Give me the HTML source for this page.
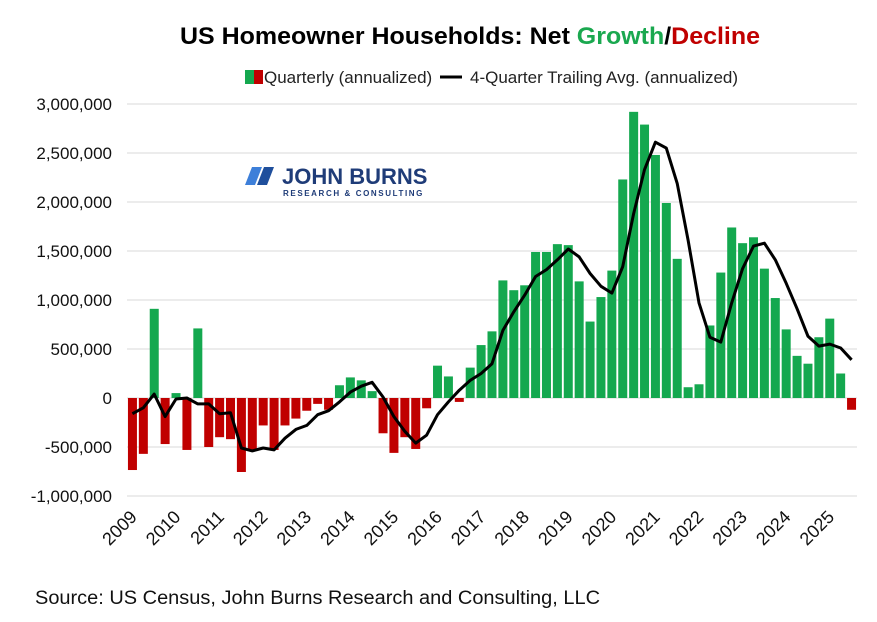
<!DOCTYPE html>
<html><head><meta charset="utf-8"><style>
body{margin:0;background:#fff;}
svg text{font-family:"Liberation Sans",Arial,sans-serif;}
</style></head><body>
<svg width="877" height="617" viewBox="0 0 877 617">
<text x="180" y="44" textLength="580" lengthAdjust="spacingAndGlyphs" font-size="24" font-weight="bold" fill="#000">US Homeowner Households: Net <tspan fill="#1aa84f">Growth</tspan>/<tspan fill="#c00000">Decline</tspan></text>
<g>
<rect x="245" y="70" width="9" height="14" fill="#14a84f"/>
<rect x="254" y="70" width="9" height="14" fill="#c00000"/>
<text x="264" y="83" font-size="17" fill="#222">Quarterly (annualized)</text>
<line x1="440" y1="77" x2="462" y2="77" stroke="#000" stroke-width="3"/>
<text x="470" y="83" font-size="17" fill="#222">4-Quarter Trailing Avg. (annualized)</text>
</g>
<g id="grid"></g>
<g id="ylab"></g>
<g id="bars"></g>
<g id="xlab"></g>
<g>
<polygon points="252,167 262,167 255,185 245,185" fill="#3d7fd9"/>
<polygon points="264,167 274,167 267,185 257,185" fill="#1f4f9c"/>
<text x="282" y="184" font-size="22" font-weight="bold" fill="#1f3c78">JOHN BURNS</text>
<text x="283" y="196" font-size="8" font-weight="bold" fill="#1f3c78" letter-spacing="1.6">RESEARCH &amp; CONSULTING</text>
</g>
<text x="35" y="604" textLength="565" lengthAdjust="spacingAndGlyphs" font-size="19" fill="#111">Source: US Census, John Burns Research and Consulting, LLC</text>
</svg>
<script>
const quarterly=[-735,-570,910,-470,50,-530,710,-500,-400,-420,-755,-530,-280,-530,-280,-210,-130,-60,-120,130,210,180,70,-360,-560,-400,-520,-105,330,220,-40,310,540,680,1200,1100,1150,1490,1490,1570,1560,1190,780,1030,1300,2230,2920,2790,2480,1990,1420,110,140,740,1280,1740,1580,1640,1320,1020,700,430,350,620,810,250,-120];
const trailingAvg=[-160,-100,40,-190,-10,0,-60,-60,-160,-150,-510,-540,-510,-530,-410,-320,-280,-170,-130,-40,60,120,160,10,-190,-340,-460,-380,-170,-40,80,180,250,350,690,880,1050,1240,1310,1410,1520,1440,1270,1140,1070,1340,1880,2330,2610,2550,2190,1610,970,620,570,970,1320,1550,1580,1410,1170,910,630,530,550,510,390];
const yTicks=[-1000000,-500000,0,500000,1000000,1500000,2000000,2500000,3000000];
const yearLabels=["2009","2010","2011","2012","2013","2014","2015","2016","2017","2018","2019","2020","2021","2022","2023","2024","2025"];
const NS="http://www.w3.org/2000/svg";
const x0=127,x1=857,slot=(x1-x0)/quarterly.length;
const y=v=>398-v/1000000*98;
const xc=i=>x0+slot*(i+0.5);
function mk(t,a,p){const e=document.createElementNS(NS,t);for(const k in a)e.setAttribute(k,a[k]);p.appendChild(e);return e;}
const grid=document.getElementById('grid'),ylab=document.getElementById('ylab');
yTicks.forEach(v=>{
 const l=mk('line',{x1:x0,x2:x1,y1:y(v),y2:y(v),stroke:'#d9d9d9','stroke-width':1},grid);
 
 
 const t=mk('text',{x:112,y:y(v)+6,'text-anchor':'end','font-size':17,fill:'#111'},ylab);
 t.textContent=v.toLocaleString('en-US');
 
 
});
const bars=document.getElementById('bars');
quarterly.forEach((q,i)=>{
 const v=q*1000;
 const r=mk('rect',{x:xc(i)-4.5,width:9,y:Math.min(y(v),y(0)),height:Math.abs(y(v)-y(0)),fill:v>=0?'#14a84f':'#c00000'},bars);
 
 
});
const pts=trailingAvg.map((v,i)=>xc(i).toFixed(1)+','+y(v*1000).toFixed(1)).join(' ');
const pl=mk('polyline',{points:pts,fill:'none',stroke:'#000','stroke-width':3,'stroke-linejoin':'round'},bars);


const xlab=document.getElementById('xlab');
yearLabels.forEach((s,k)=>{
 const px=x0+slot*4*k+11, py=518;
 const t=mk('text',{x:px,y:py,'text-anchor':'end','font-size':18,fill:'#111',transform:`rotate(-45 ${px} ${py})`},xlab);
 t.textContent=s;
 
 
});
</script>
</body></html>
